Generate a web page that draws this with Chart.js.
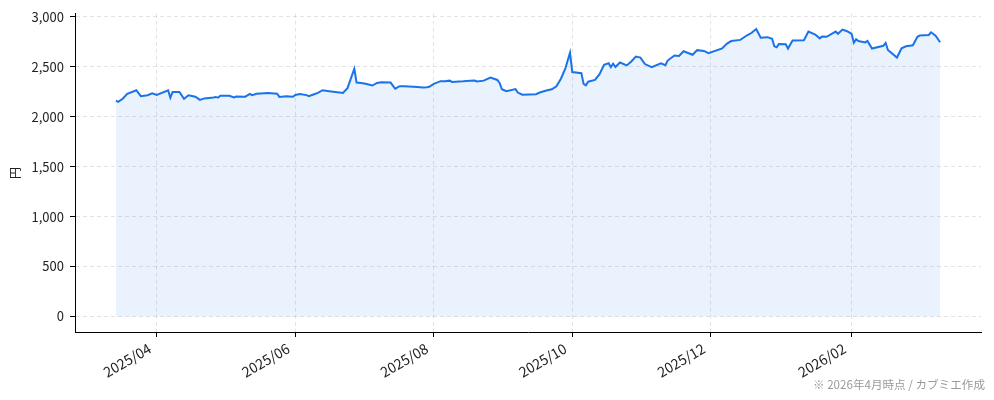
<!DOCTYPE html>
<html lang="ja">
<head>
<meta charset="utf-8">
<title>株価推移</title>
<script src="https://cdn.jsdelivr.net/npm/chart.js@4.4.1/dist/chart.umd.min.js"></script>
<style>
    html, body { margin: 0; padding: 0; background: #fff; }
    #wrap { position: relative; width: 994px; height: 400px; }
</style>
</head>
<body>
<div id="wrap"><canvas id="priceChart" width="994" height="400"></canvas></div>
<script>
        // Daily close (yen)
        const dates = [
            '2025-03-14', '2025-03-15', '2025-03-17', '2025-03-19', '2025-03-23', '2025-03-25', '2025-03-28', '2025-03-30',
            '2025-04-01', '2025-04-06', '2025-04-07', '2025-04-08', '2025-04-11', '2025-04-13', '2025-04-15', '2025-04-18',
            '2025-04-20', '2025-04-22', '2025-04-26', '2025-04-27', '2025-04-28', '2025-04-29', '2025-05-03', '2025-05-05',
            '2025-05-06', '2025-05-10', '2025-05-12', '2025-05-13', '2025-05-15', '2025-05-20', '2025-05-24', '2025-05-25',
            '2025-05-28', '2025-05-31', '2025-06-01', '2025-06-03', '2025-06-06', '2025-06-07', '2025-06-09', '2025-06-11',
            '2025-06-13', '2025-06-16', '2025-06-22', '2025-06-24', '2025-06-27', '2025-06-28', '2025-06-30', '2025-07-02',
            '2025-07-05', '2025-07-07', '2025-07-09', '2025-07-13', '2025-07-15', '2025-07-17', '2025-07-19', '2025-07-25',
            '2025-07-27', '2025-07-29', '2025-07-30', '2025-08-01', '2025-08-04', '2025-08-06', '2025-08-08', '2025-08-09',
            '2025-08-14', '2025-08-17', '2025-08-19', '2025-08-20', '2025-08-23', '2025-08-26', '2025-08-29', '2025-08-30',
            '2025-08-31', '2025-09-02', '2025-09-06', '2025-09-07', '2025-09-09', '2025-09-15', '2025-09-17', '2025-09-20',
            '2025-09-22', '2025-09-24', '2025-09-26', '2025-09-28', '2025-09-30', '2025-10-01', '2025-10-05', '2025-10-06',
            '2025-10-07', '2025-10-08', '2025-10-11', '2025-10-13', '2025-10-15', '2025-10-17', '2025-10-18', '2025-10-19',
            '2025-10-20', '2025-10-22', '2025-10-25', '2025-10-27', '2025-10-29', '2025-10-31', '2025-11-02', '2025-11-05',
            '2025-11-09', '2025-11-11', '2025-11-12', '2025-11-15', '2025-11-17', '2025-11-19', '2025-11-23', '2025-11-25',
            '2025-11-28', '2025-11-30', '2025-12-06', '2025-12-08', '2025-12-10', '2025-12-14', '2025-12-17', '2025-12-19',
            '2025-12-21', '2025-12-23', '2025-12-26', '2025-12-28', '2025-12-29', '2025-12-30', '2025-12-31', '2026-01-03',
            '2026-01-04', '2026-01-06', '2026-01-11', '2026-01-13', '2026-01-16', '2026-01-18', '2026-01-19', '2026-01-21',
            '2026-01-24', '2026-01-25', '2026-01-26', '2026-01-28', '2026-01-30', '2026-02-01', '2026-02-02', '2026-02-03',
            '2026-02-04', '2026-02-07', '2026-02-08', '2026-02-10', '2026-02-15', '2026-02-16', '2026-02-17', '2026-02-21',
            '2026-02-23', '2026-02-25', '2026-02-28', '2026-03-02', '2026-03-03', '2026-03-07', '2026-03-08', '2026-03-10',
            '2026-03-12'
        ];
        const prices = [
            2160, 2148, 2180, 2228, 2265, 2205, 2215, 2235,
            2218, 2265, 2190, 2248, 2248, 2180, 2215, 2200,
            2168, 2183, 2192, 2198, 2190, 2210, 2210, 2192,
            2202, 2200, 2228, 2216, 2230, 2238, 2230, 2198,
            2205, 2200, 2218, 2228, 2216, 2206, 2222, 2238,
            2265, 2255, 2238, 2286, 2480, 2342, 2338, 2330,
            2312, 2338, 2345, 2342, 2280, 2305, 2305, 2298,
            2292, 2295, 2300, 2328, 2356, 2354, 2361, 2348,
            2354, 2361, 2362, 2352, 2361, 2392, 2368, 2338,
            2275, 2255, 2276, 2242, 2220, 2225, 2245, 2265,
            2275, 2305, 2380, 2487, 2640, 2447, 2436, 2328,
            2314, 2350, 2368, 2425, 2520, 2535, 2497, 2530,
            2497, 2542, 2513, 2553, 2602, 2592, 2527, 2497,
            2535, 2516, 2562, 2613, 2608, 2655, 2620, 2666,
            2658, 2636, 2684, 2730, 2757, 2769, 2815, 2840,
            2878, 2791, 2796, 2780, 2704, 2694, 2728, 2726,
            2682, 2762, 2766, 2852, 2822, 2784, 2802, 2800,
            2840, 2852, 2830, 2872, 2856, 2830, 2740, 2775,
            2758, 2744, 2758, 2682, 2710, 2740, 2668, 2592,
            2685, 2705, 2715, 2800, 2812, 2818, 2845, 2810,
            2745
        ];

        // Axis ticks
        const tickDates = ['2025-04-01', '2025-06-01', '2025-08-01', '2025-10-01', '2025-12-01', '2026-02-01'];
        const tickLabels = ['2025/04', '2025/06', '2025/08', '2025/10', '2025/12', '2026/02'];
        const yTicks = [0, 500, 1000, 1500, 2000, 2500, 3000];
        const xRange = ['2025-02-24', '2026-03-30'];
        const yRange = [-155, 3030];

        const yTitle = '円';
        const creditText = '※ 2026年4月時点 / カブミエ作成';

        const FONT = '"Noto Sans CJK JP", "Noto Sans", sans-serif';
        const toTime = s => Date.parse(s + 'T00:00:00Z');

        const points = dates.map((d, i) => ({ x: toTime(d), y: prices[i] }));

        // Credit line bottom right
        const creditPlugin = {
            id: 'credit',
            afterDraw(chart) {
                const c = chart.ctx;
                c.save();
                c.font = '11.6px ' + FONT;
                c.fillStyle = '#999';
                c.textAlign = 'right';
                c.textBaseline = 'middle';
                c.fillText(creditText, 985, 385);
                c.restore();
            }
        };

        const ctx = document.getElementById('priceChart').getContext('2d');
        new Chart(ctx, {
            type: 'line',
            data: {
                datasets: [{
                    data: points,
                    borderColor: '#1a73e8',
                    borderWidth: 2,
                    backgroundColor: 'rgba(26,115,232,0.09)',
                    fill: 'origin',
                    pointRadius: 0,
                    tension: 0
                }]
            },
            options: {
                responsive: false,
                animation: false,
                layout: { padding: { top: 12, right: 13, left: 0, bottom: 0 } },
                plugins: {
                    legend: { display: false },
                    tooltip: { enabled: false }
                },
                scales: {
                    x: {
                        type: 'linear',
                        min: toTime(xRange[0]),
                        max: toTime(xRange[1]),
                        afterBuildTicks: scale => {
                            scale.ticks = tickDates.map(d => ({ value: toTime(d) }));
                        },
                        afterFit: scale => { scale.height = 68; },
                        ticks: {
                            autoSkip: false,
                            minRotation: 30,
                            maxRotation: 30,
                            padding: 3,
                            labelOffset: -7,
                            color: '#222',
                            font: { family: FONT, size: 14 },
                            callback: (v, i) => tickLabels[i]
                        },
                        grid: {
                            color: 'rgba(0,0,0,0.11)',
                            tickColor: '#000',
                            tickLength: 5,
                            tickBorderDash: []
                        },
                        border: { color: '#000', width: 1, dash: [4, 3] }
                    },
                    y: {
                        min: yRange[0],
                        max: yRange[1],
                        afterBuildTicks: scale => {
                            scale.ticks = yTicks.map(v => ({ value: v }));
                        },
                        afterFit: scale => { scale.width = 75; },
                        ticks: {
                            padding: 6,
                            color: '#222',
                            font: { family: FONT, size: 13 },
                            callback: v => v.toLocaleString('en-US')
                        },
                        grid: {
                            color: 'rgba(0,0,0,0.11)',
                            tickColor: '#000',
                            tickLength: 5,
                            tickBorderDash: []
                        },
                        border: { color: '#000', width: 1, dash: [4, 3] },
                        title: {
                            display: true,
                            text: yTitle,
                            color: '#222',
                            font: { family: FONT, size: 12 },
                            padding: { top: 8, bottom: 0 }
                        }
                    }
                }
            },
            plugins: [creditPlugin]
        });
</script>
</body>
</html>
